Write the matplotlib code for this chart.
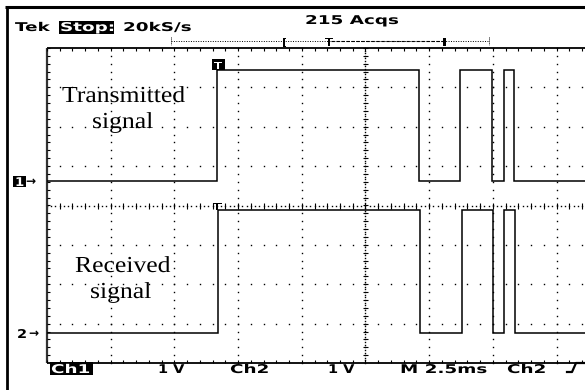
import numpy as np
import matplotlib
matplotlib.use('Agg')
import matplotlib.pyplot as plt
from matplotlib import patheffects
from matplotlib.transforms import Affine2D
from matplotlib.patches import Rectangle

# scope settings
time_per_div = 2.5   # ms / div
volt_per_div = 1.0   # V / div
n_xdiv, n_ydiv = 10, 8

# Ch1 - transmitted signal, edge times in ms (starts low)
tx_edges = [6.67, 14.60, 16.21, 17.46, 17.93, 18.33]
tx_low, tx_high = 0.05, 2.88
# Ch2 - received signal
rx_edges = [6.71, 14.64, 16.29, 17.50, 17.93, 18.37]
rx_low, rx_high = 0.03, 3.15

# ground marker positions (divisions from screen centre)
ch1_offset = 0.57
ch2_offset = -3.27


def square_wave(edges, low, high, t_end):
    t, v = [0.0], [low]
    level = low
    for e in edges:
        nxt = high if level == low else low
        t += [e, e]
        v += [level, nxt]
        level = nxt
    t.append(t_end)
    v.append(level)
    return np.array(t), np.array(v)


class Stretch(patheffects.AbstractPathEffect):
    # widen glyphs like the wide scope screen font
    def __init__(self, sx):
        super().__init__()
        self.sx = sx

    def draw_path(self, renderer, gc, tpath, affine, rgbFace=None):
        renderer.draw_path(gc, tpath, Affine2D().scale(self.sx, 1) + affine, rgbFace)


W, H = 585, 390
fig = plt.figure(figsize=(W / 100, H / 100), dpi=100)
fig.patch.set_facecolor('white')

# graticule axes: left edge at px 47, top 48, bottom 363, 63.7 px/div
gx0, gtop, gbot, xdiv_px = 47, 48, 363, 63.7
ax = fig.add_axes([gx0 / W, (H - gbot) / H, n_xdiv * xdiv_px / W, (gbot - gtop) / H])
t_end = n_xdiv * time_per_div
v_half = n_ydiv / 2 * volt_per_div
ax.set_xlim(0, t_end)
ax.set_ylim(-v_half, v_half)
ax.axis('off')

px_x = t_end / (n_xdiv * xdiv_px)          # ms per pixel
px_y = 2 * v_half / (gbot - gtop)          # V per pixel
dot = dict(ls='none', marker='s', ms=1.0, mew=0, color='black', clip_on=False)

# dotted grid lines
for i in range(1, n_xdiv):
    if i == n_xdiv // 2:
        continue
    yy = np.arange(-v_half, v_half + 1e-6, volt_per_div / 5)
    ax.plot(np.full_like(yy, i * time_per_div), yy, **dot)
for j in range(-n_ydiv // 2 + 1, n_ydiv // 2):
    if j == 0:
        continue
    xx = np.arange(0, t_end + 1e-6, time_per_div / 5)
    ax.plot(xx, np.full_like(xx, j * volt_per_div), **dot)

# centre cross with ticks
xx = np.arange(0, t_end + 1e-6, time_per_div / 15)
ax.plot(xx, np.zeros_like(xx), **dot)
ax.vlines(np.arange(0, t_end + 1e-6, time_per_div / 5), -3 * px_y, 3 * px_y, color='black', lw=0.8)
tc = n_xdiv / 2 * time_per_div
yy = np.arange(-v_half, v_half + 1e-6, volt_per_div / 15)
ax.plot(np.full_like(yy, tc), yy, **dot)
ax.hlines(np.arange(-v_half, v_half + 1e-6, volt_per_div / 5), tc - 3 * px_x, tc + 3 * px_x, color='black', lw=0.8)

# border with ticks
ax.hlines([v_half, -v_half], 0, t_end, color='black', lw=1.3, clip_on=False)
ax.vlines([0], -v_half, v_half, color='#333333', lw=1.6, clip_on=False)
tick_t = np.arange(0, t_end + 1e-6, time_per_div / 5)
ax.vlines(tick_t, v_half - 3 * px_y, v_half, color='black', lw=0.8, clip_on=False)
ax.vlines(tick_t, -v_half, -v_half + 3 * px_y, color='black', lw=0.8, clip_on=False)
ax.hlines(np.arange(-v_half, v_half + 1e-6, volt_per_div / 5), 0, 3 * px_x, color='black', lw=0.8)

# signals
t1, v1 = square_wave(tx_edges, tx_low, tx_high, t_end)
t2, v2 = square_wave(rx_edges, rx_low, rx_high, t_end)
ax.plot(t1, v1 + ch1_offset * volt_per_div, color='black', lw=1.1, solid_joinstyle='miter')
ax.plot(t2, v2 + ch2_offset * volt_per_div, color='black', lw=1.1, solid_joinstyle='miter')

# overlay in pixel coordinates for the screen readouts
ov = fig.add_axes([0, 0, 1, 1])
ov.set_xlim(0, W)
ov.set_ylim(H, 0)
ov.axis('off')
ov.patch.set_visible(False)


def scope_text(x, y, s, color='black', size=8.7, sx=1.52):
    ov.text(x, y, s, ha='left', va='baseline', fontsize=size, fontweight='bold',
            family='DejaVu Sans', color=color, path_effects=[Stretch(sx)])


def inverse_box(x, y, w, h):
    ov.add_patch(Rectangle((x, y), w, h, facecolor='black', edgecolor='none'))


# outer frame
ov.plot([5, W], [7, 7], color='black', lw=2.2, solid_capstyle='butt')
ov.plot([7, 7], [6, H], color='black', lw=2.0, solid_capstyle='butt')

# top readout
scope_text(15, 31, 'Tek')
inverse_box(59, 21, 55, 13)
scope_text(60, 31, 'Stop:', color='white')
scope_text(123, 31, '20kS/s')
scope_text(305, 24, '215 Acqs')

# record position bar
ov.plot([171, 489], [41, 41], color='black', lw=0.7, ls=(0, (1, 1.5)))
ov.plot([331, 446], [41, 41], color='black', lw=0.8, ls=(0, (3, 1.5)))
ov.vlines([171, 489], 37, 45, color='black', lw=0.7, linestyles=(0, (1, 1)))
scope_text(282, 46, '[', size=8, sx=1.0)
scope_text(325, 46, 'T', size=8, sx=1.0)
scope_text(442, 46, 'I', size=8, sx=1.3)

# bottom readout
inverse_box(50, 362, 43, 13)
scope_text(51, 373, 'Ch1', color='white')
scope_text(158, 373, '1 V', sx=1.2)
scope_text(230, 373, 'Ch2')
scope_text(328, 373, '1 V', sx=1.2)
scope_text(400, 373, 'M 2.5ms')
scope_text(507, 373, 'Ch2')
ov.plot([567, 572, 576, 584], [372, 372, 363, 363], color='black', lw=1.6)

# channel ground markers
inverse_box(13, 176, 13, 11)
scope_text(15, 186, '1', color='white', sx=1.1)
scope_text(26, 185, '\u2192', sx=1.0)
scope_text(17, 338, '2', sx=1.2)
scope_text(29, 337, '\u2192', sx=1.0)

# trigger markers
inverse_box(212, 59, 13, 11)
scope_text(214, 69, 'T', color='white', size=7, sx=1.2)
scope_text(213, 210, 'T', size=7, sx=1.3)

# annotations
serif = dict(ha='left', va='baseline', fontsize=16.5, family='Liberation Serif',
             color='black', path_effects=[Stretch(1.12)])
ov.text(62, 102, 'Transmitted', **serif)
ov.text(92, 128, 'signal', **serif)
ov.text(75, 272, 'Received', **serif)
ov.text(90, 298, 'signal', **serif)

fig.savefig('out.png', dpi=100)
